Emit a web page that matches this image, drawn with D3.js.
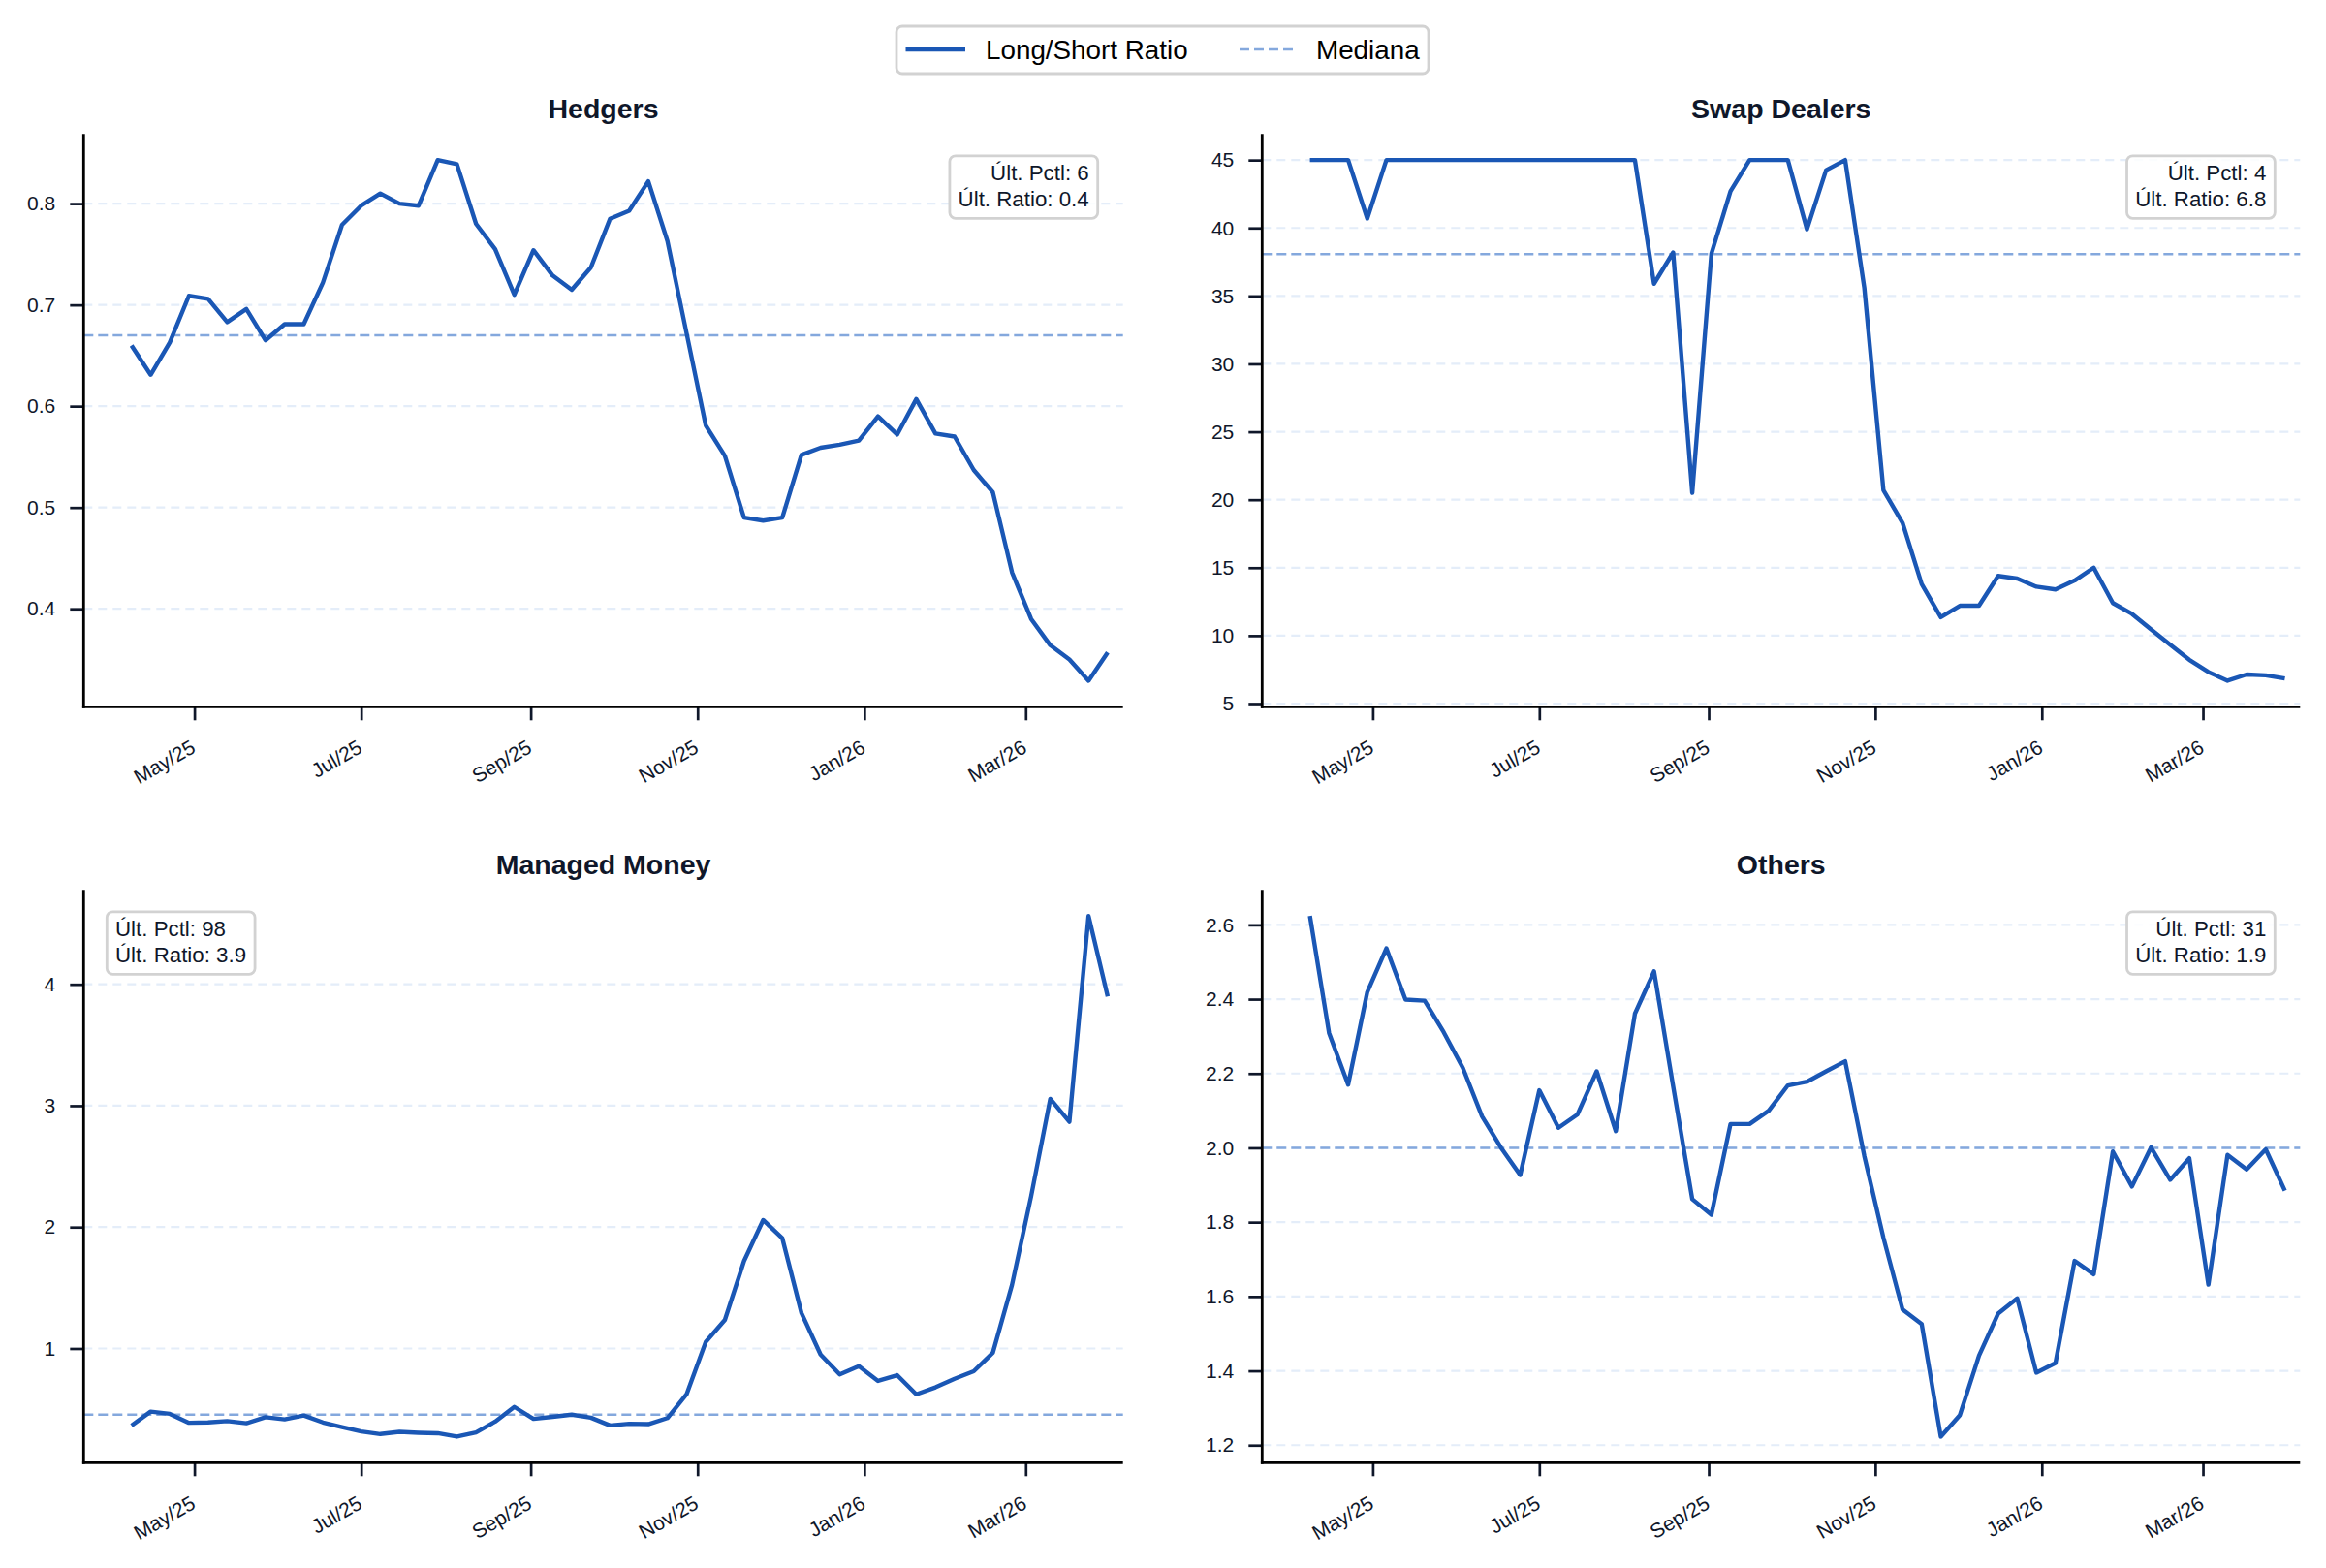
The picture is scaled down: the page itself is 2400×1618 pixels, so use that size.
<!DOCTYPE html>
<html>
<body>
<meta charset="UTF-8">
<title>Long/Short Ratio por grupo</title>
<style>
    body {
        margin: 0;
        background: #ffffff;
        font-family: "Liberation Sans", Arial, sans-serif;
    }
</style>
<div id="chart"></div>
<script src="https://d3js.org/d3.v7.min.js"></script>
<script>

    // weekly points, first one on 2025-04-08
    var firstDate = "2025-04-08";

    var hedgers = [0.660, 0.631, 0.663, 0.709, 0.706, 0.683, 0.696, 0.665, 0.681, 0.681,
        0.722, 0.779, 0.798, 0.810, 0.800, 0.798, 0.843, 0.839, 0.780, 0.755,
        0.710, 0.754, 0.729, 0.715, 0.737, 0.785, 0.793, 0.822, 0.763, 0.672,
        0.581, 0.551, 0.490, 0.487, 0.490, 0.552, 0.559, 0.562, 0.566, 0.590,
        0.572, 0.607, 0.573, 0.570, 0.537, 0.515, 0.436, 0.390, 0.364, 0.350,
        0.329, 0.357];

    var swapDealers = [45, 45, 45, 40.7, 45, 45, 45, 45, 45, 45,
        45, 45, 45, 45, 45, 45, 45, 45, 35.9, 38.2,
        20.5, 38.1, 42.7, 45, 45, 45, 39.9, 44.25, 45, 35.6,
        20.7, 18.3, 13.8, 11.35, 12.2, 12.2, 14.4, 14.2, 13.6, 13.4,
        14.05, 15.0, 12.4, 11.6, 10.45, 9.33, 8.22, 7.32, 6.68, 7.14,
        7.08, 6.84];

    var managedMoney = [0.366, 0.480, 0.462, 0.388, 0.391, 0.402, 0.384, 0.434, 0.416, 0.448,
        0.391, 0.352, 0.316, 0.295, 0.313, 0.306, 0.302, 0.274, 0.309, 0.398,
        0.519, 0.420, 0.437, 0.455, 0.430, 0.366, 0.380, 0.377, 0.427, 0.623,
        1.054, 1.235, 1.720, 2.058, 1.909, 1.292, 0.950, 0.787, 0.854, 0.733,
        0.780, 0.623, 0.680, 0.751, 0.812, 0.965, 1.524, 2.254, 3.056, 2.867,
        4.563, 3.900];

    var others = [2.624, 2.309, 2.170, 2.419, 2.537, 2.399, 2.396, 2.311, 2.215, 2.085,
        2.000, 1.927, 2.155, 2.054, 2.090, 2.206, 2.045, 2.361, 2.475, 2.166,
        1.862, 1.820, 2.064, 2.064, 2.100, 2.168, 2.178, 2.206, 2.233, 1.978,
        1.758, 1.565, 1.526, 1.223, 1.281, 1.441, 1.554, 1.595, 1.395, 1.421,
        1.696, 1.660, 1.990, 1.896, 2.001, 1.914, 1.972, 1.632, 1.981, 1.942,
        1.996, 1.885];

    var titles = ["Hedgers", "Swap Dealers", "Managed Money", "Others"];
    var medians = [0.670, 38.08, 0.455, 2.0];
    var lastPctl = [6, 4, 98, 31];

    var hedgersTicks = [0.4, 0.5, 0.6, 0.7, 0.8];
    var swapTicks = [5, 10, 15, 20, 25, 30, 35, 40, 45];
    var managedTicks = [1, 2, 3, 4];
    var othersTicks = [1.2, 1.4, 1.6, 1.8, 2.0, 2.2, 2.4, 2.6];

    var xTickMonths = ["2025-05-01", "2025-07-01", "2025-09-01", "2025-11-01", "2026-01-01", "2026-03-01"];

    var width = 2400,
        height = 1618;

    var lineColor = "#1a57b5",
        medianColor = "#84a8dd",
        gridColor = "#e4edf9",
        textColor = "#0f172a";

    var parse = d3.utcParse("%Y-%m-%d");
    var start = parse(firstDate);
    var dates = d3.range(hedgers.length).map(function(i) { return d3.utcDay.offset(start, 7 * i); });
    var xTicks = xTickMonths.map(parse);
    var fmtMonth = d3.utcFormat("%b/%y");

    var panels = [
        { title: titles[0], values: hedgers, median: medians[0], ticks: hedgersTicks, fmt: d3.format(".1f"), pctl: lastPctl[0], box: "right" },
        { title: titles[1], values: swapDealers, median: medians[1], ticks: swapTicks, fmt: d3.format("d"), pctl: lastPctl[1], box: "right" },
        { title: titles[2], values: managedMoney, median: medians[2], ticks: managedTicks, fmt: d3.format("d"), pctl: lastPctl[2], box: "left" },
        { title: titles[3], values: others, median: medians[3], ticks: othersTicks, fmt: d3.format(".1f"), pctl: lastPctl[3], box: "right" }
    ];

    var cols = [{ l: 86.3, r: 1158.7 }, { l: 1302.3, r: 2373.3 }];
    var rows = [{ t: 138.3, b: 729.3 }, { t: 918.3, b: 1509.3 }];

    var svg = d3.select("#chart")
        .append("svg")
        .attr("width", width)
        .attr("height", height)
        .style("display", "block");

    svg.append("rect")
        .attr("width", width)
        .attr("height", height)
        .attr("fill", "#ffffff");

    panels.forEach(function(p, k) {
        var c = cols[k % 2], r = rows[Math.floor(k / 2)];

        var x = d3.scaleUtc()
            .domain([new Date(Date.UTC(2025, 2, 21, 12)), new Date(Date.UTC(2026, 3, 5, 14))])
            .range([c.l, c.r]);

        var ext = d3.extent(p.values), pad = (ext[1] - ext[0]) * 0.05;
        var y = d3.scaleLinear()
            .domain([ext[0] - pad, ext[1] + pad])
            .range([r.b, r.t]);

        var g = svg.append("g");

        // grid
        g.selectAll(".grid")
            .data(p.ticks)
            .enter().append("line")
            .attr("x1", c.l)
            .attr("x2", c.r)
            .attr("y1", function(d) { return y(d); })
            .attr("y2", function(d) { return y(d); })
            .attr("stroke", gridColor)
            .attr("stroke-width", 2.2)
            .attr("stroke-dasharray", "9,6");

        // median
        g.append("line")
            .attr("x1", c.l)
            .attr("x2", c.r)
            .attr("y1", y(p.median))
            .attr("y2", y(p.median))
            .attr("stroke", medianColor)
            .attr("stroke-width", 2.4)
            .attr("stroke-dasharray", "10,5");

        var line = d3.line()
            .x(function(d, i) { return x(dates[i]); })
            .y(function(d) { return y(d); });

        g.append("path")
            .datum(p.values)
            .attr("d", line)
            .attr("fill", "none")
            .attr("stroke", lineColor)
            .attr("stroke-width", 4.4)
            .attr("stroke-linejoin", "round");

        // y axis
        var yAxis = g.append("g")
            .attr("transform", "translate(" + c.l + ",0)")
            .call(d3.axisLeft(y).tickValues(p.ticks).tickFormat(p.fmt).tickSize(14).tickPadding(15));
        yAxis.select(".domain").remove();
        yAxis.selectAll(".tick line").attr("stroke", textColor).attr("stroke-width", 2.7);
        yAxis.selectAll(".tick text")
            .attr("fill", textColor)
            .style("font-size", "21px")
            .style("font-family", "'Liberation Sans', Arial, sans-serif");

        // x axis
        var xAxis = g.append("g")
            .attr("transform", "translate(0," + r.b + ")")
            .call(d3.axisBottom(x).tickValues(xTicks).tickFormat(fmtMonth).tickSize(14));
        xAxis.select(".domain").remove();
        xAxis.selectAll(".tick line").attr("stroke", textColor).attr("stroke-width", 2.7);
        xAxis.selectAll(".tick text")
            .attr("fill", textColor)
            .attr("x", 2)
            .attr("y", 46)
            .attr("dy", null)
            .attr("text-anchor", "end")
            .attr("transform", "rotate(-30, 2, 46)")
            .style("font-size", "21px")
            .style("font-family", "'Liberation Sans', Arial, sans-serif");

        // spines
        g.append("line")
            .attr("x1", c.l).attr("x2", c.l)
            .attr("y1", r.t).attr("y2", r.b + 1.4)
            .attr("stroke", "#000").attr("stroke-width", 2.8);
        g.append("line")
            .attr("x1", c.l - 1.4).attr("x2", c.r)
            .attr("y1", r.b).attr("y2", r.b)
            .attr("stroke", "#000").attr("stroke-width", 2.8);

        // title
        g.append("text")
            .attr("x", (c.l + c.r) / 2)
            .attr("y", r.t - 16.5)
            .attr("text-anchor", "middle")
            .attr("fill", textColor)
            .style("font-size", "28.5px")
            .style("font-weight", "bold")
            .text(p.title);

        // last value box
        var lines = ["Últ. Pctl: " + p.pctl, "Últ. Ratio: " + p.values[p.values.length - 1].toFixed(1)];
        var boxG = g.append("g");
        var rect = boxG.append("rect");
        var top = r.t + 22.5;
        var anchor = p.box === "right" ? "end" : "start";
        var tx = p.box === "right" ? c.r - 26 - 9 : c.l + 24 + 8.7;
        var texts = boxG.selectAll("text")
            .data(lines)
            .enter().append("text")
            .attr("x", tx)
            .attr("y", function(d, i) { return top + 25.3 + i * 26.8; })
            .attr("text-anchor", anchor)
            .attr("fill", textColor)
            .style("font-size", "22.3px")
            .text(function(d) { return d; });
        var tw = d3.max(texts.nodes(), function(n) { return n.getComputedTextLength(); });
        var bw = tw + 17.7;
        var bx = p.box === "right" ? c.r - 26 - bw : c.l + 24;
        rect.attr("x", bx)
            .attr("y", top)
            .attr("width", bw)
            .attr("height", 64.5)
            .attr("rx", 6)
            .attr("fill", "#ffffff")
            .attr("fill-opacity", 0.85)
            .attr("stroke", "#d2d2d2")
            .attr("stroke-width", 2.8);
    });

    // legend
    var legend = svg.append("g");
    legend.append("rect")
        .attr("x", 925)
        .attr("y", 27)
        .attr("width", 549)
        .attr("height", 49)
        .attr("rx", 6)
        .attr("fill", "#ffffff")
        .attr("stroke", "#d2d2d2")
        .attr("stroke-width", 2.8);
    legend.append("line")
        .attr("x1", 934.5).attr("x2", 996)
        .attr("y1", 51).attr("y2", 51)
        .attr("stroke", lineColor).attr("stroke-width", 4.4);
    legend.append("text")
        .attr("x", 1017).attr("y", 61)
        .attr("fill", "#000")
        .style("font-size", "27.8px")
        .text("Long/Short Ratio");
    legend.append("line")
        .attr("x1", 1279).attr("x2", 1336)
        .attr("y1", 51).attr("y2", 51)
        .attr("stroke", medianColor).attr("stroke-width", 2.4)
        .attr("stroke-dasharray", "10,5");
    legend.append("text")
        .attr("x", 1358).attr("y", 61)
        .attr("fill", "#000")
        .style("font-size", "27.8px")
        .text("Mediana");

</script>
</body>
</html>
